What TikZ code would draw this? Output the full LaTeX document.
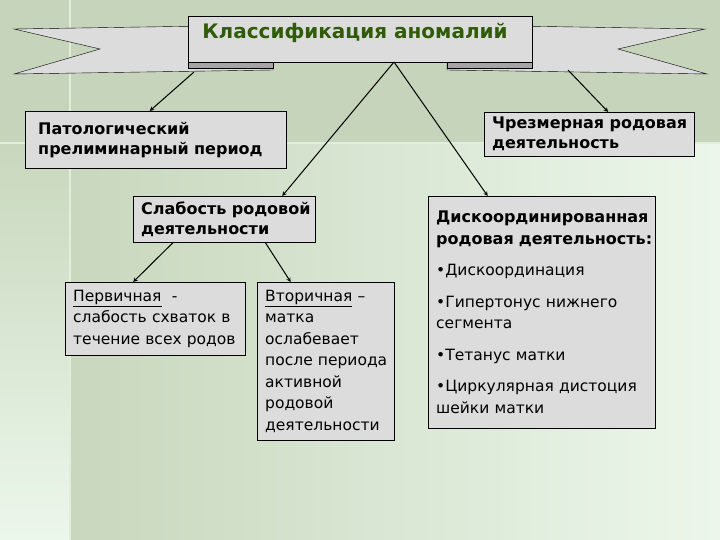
\documentclass[tikz,border=0pt]{standalone}
\usepackage{fontspec}
\setmainfont{DejaVu Sans}
\definecolor{bandgreen}{RGB}{197,212,186}
\definecolor{palegreen}{RGB}{236,247,235}
\definecolor{deepgreen}{RGB}{200,215,189}
\definecolor{gridline}{RGB}{226,238,221}
\definecolor{boxgray}{RGB}{220,220,220}
\definecolor{foldgray}{RGB}{165,165,165}
\definecolor{titlegreen}{RGB}{48,92,10}

\tikzset{box/.style={draw=black,fill=boxgray,anchor=north west,align=left,
          inner xsep=8pt,inner ysep=0pt},
        boldbox/.style={box,font=\fontsize{16}{20}\selectfont\bfseries},
        plainbox/.style={box,font=\fontsize{15.5}{21.5}\selectfont},
        ribbon/.style={draw=black,fill=boxgray},
        fold/.style={draw=black,fill=foldgray},
        arr/.style={-stealth,line width=1pt}}

\begin{document}
\begin{tikzpicture}[x=1pt,y=-1pt]
        \useasboundingbox (0,0) rectangle (720,540);
        % slide background
        \fill[bandgreen] (0,0) rectangle (720,144);
        \shade[top color=deepgreen,bottom color=palegreen] (0,144) rectangle (70,540);
        \shade[left color=deepgreen,right color=palegreen] (70,144) rectangle (720,540);
        \draw[gridline,line width=2pt] (70,0) -- (70,540);
        \draw[gridline,line width=2pt] (0,143) -- (720,143);

        % banner
        \filldraw[ribbon] (14,29) -- (273,25) -- (273,70) -- (14,74) -- (100,49) -- cycle;
        \filldraw[ribbon] (705,29) -- (447,25) -- (447,70) -- (707,74) -- (618,49) -- cycle;
        \filldraw[fold] (188,61) rectangle (273,68);
        \filldraw[fold] (447,61) rectangle (532,68);
        \node[draw=black,fill=boxgray,minimum width=344pt,minimum height=46pt,
              text height=12pt,text depth=12pt,inner sep=0pt,
              font=\fontsize{20}{24}\selectfont\bfseries,text=titlegreen]
              (title) at (360,39) {\hspace*{-10pt}Классификация~аномалий};

        \coordinate (lfold) at (194,72);
        \coordinate (rfold) at (568,70);
        \coordinate (apex) at (394,62);

        % boxes
        \node[boldbox,inner xsep=13pt,minimum width=261pt,minimum height=57pt,text width=235pt]
              (patol) at (25,111) {Патологический\\прелиминарный~период};
        \node[boldbox,minimum width=182pt,minimum height=46pt,text width=166pt]
              (slab) at (133,196) {Слабость~родовой\\деятельности};
        \node[boldbox,minimum width=210pt,minimum height=44pt,text width=194pt]
              (chrezm) at (484,112) {Чрезмерная~родовая\\деятельность};
        \node[plainbox,minimum width=227pt,minimum height=232pt,text width=211pt]
              (diskoord) at (428,196) {{\fontsize{16}{21}\selectfont\bfseries Дискоординированная\\родовая~деятельность:}\\[10pt]
              •Дискоординация\\[10pt]
              •Гипертонус~нижнего\\сегмента\\[10pt]
              •Тетанус~матки\\[10pt]
              •Циркулярная~дистоция\\шейки~матки};
        \node[plainbox,minimum width=180pt,minimum height=73pt,text width=164pt]
              (perv) at (65,282) {\underline{Первичная}\ \ -\\слабость~схваток~в\\течение~всех~родов};
        \node[plainbox,minimum width=137pt,minimum height=158pt,text width=121pt]
              (vtor) at (257,282) {\underline{Вторичная}~--\\матка\\ослабевает\\после~периода\\активной\\родовой\\деятельности};

        % connectors
        \draw[arr] (lfold) -- ([xshift=-6pt]patol.north);
        \draw[arr] (rfold) -- ([xshift=19pt]chrezm.north);
        \draw[arr] (apex) -- ([xshift=58pt]slab.north);
        \draw[arr] (apex) -- ([xshift=-54pt]diskoord.north);
        \draw[arr] ([xshift=-51pt]slab.south) -- ([xshift=-22pt]perv.north);
        \draw[arr] ([xshift=41pt]slab.south) -- ([xshift=-35pt]vtor.north);
\end{tikzpicture}
\end{document}
